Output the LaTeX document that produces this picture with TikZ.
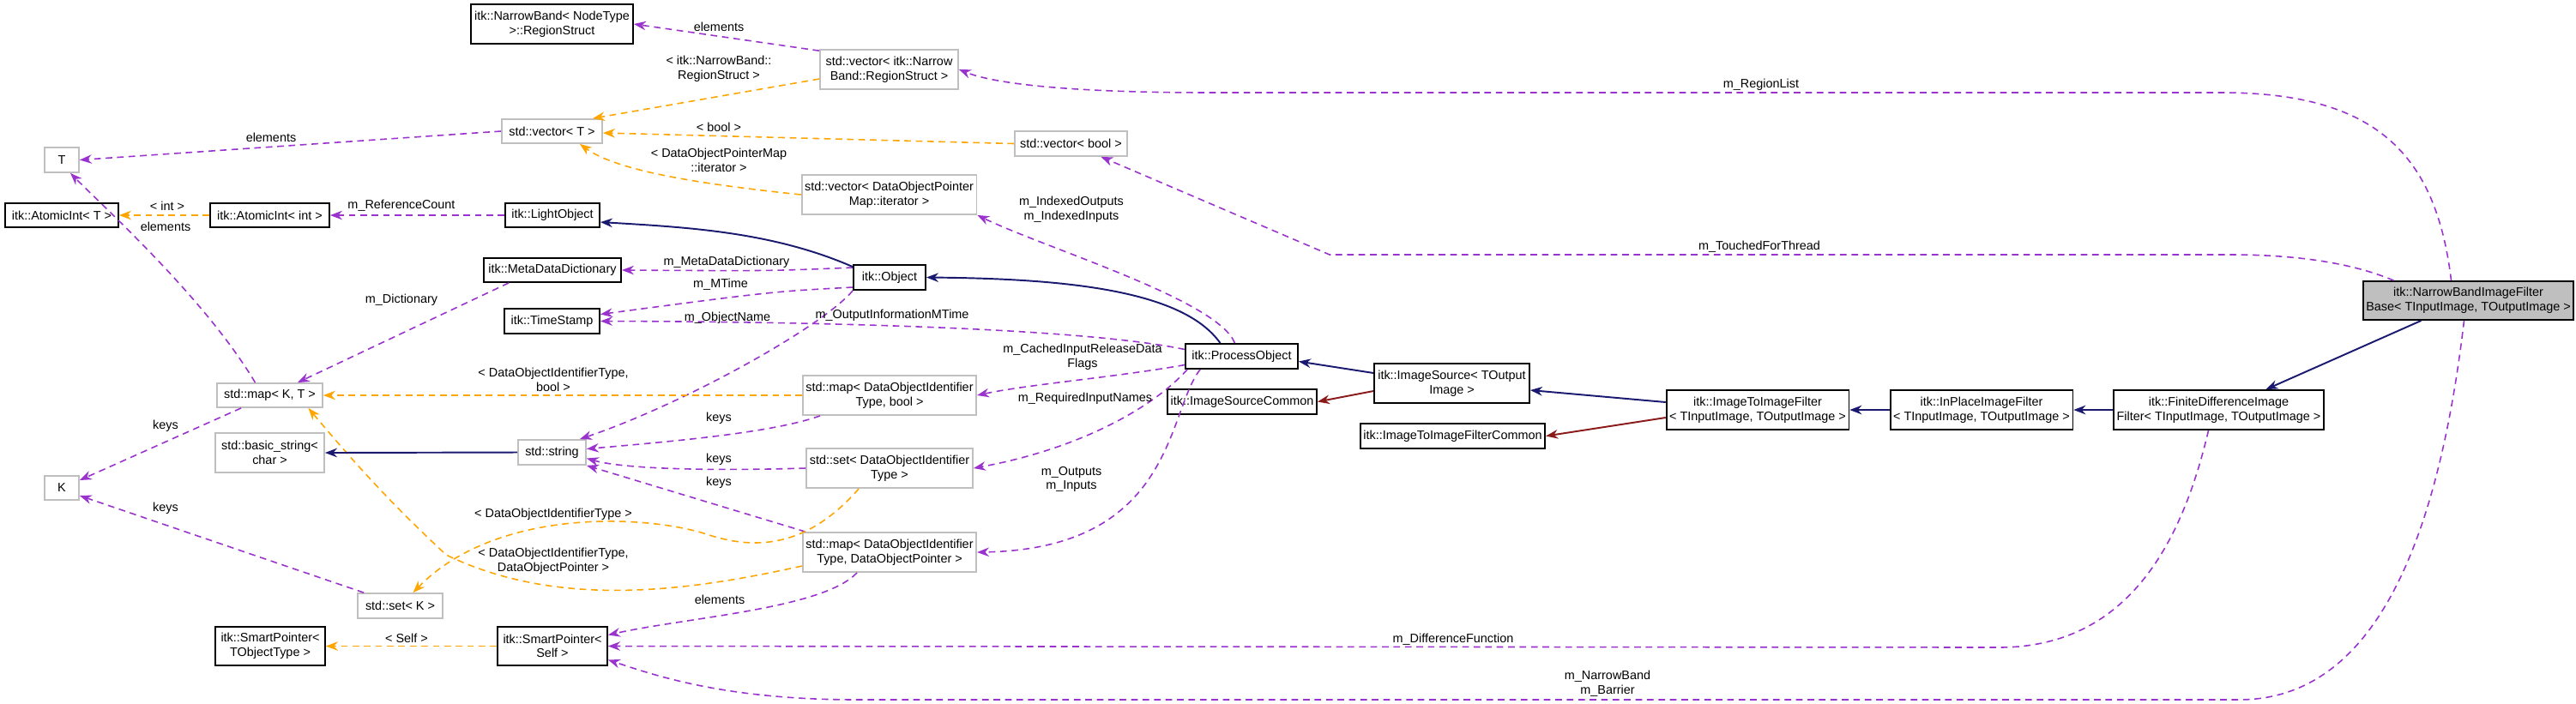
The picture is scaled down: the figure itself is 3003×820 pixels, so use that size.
\documentclass[tikz,border=0pt]{standalone}
\usepackage{fontspec}
\setmainfont{Liberation Sans}
\usetikzlibrary{arrows.meta,calc}
\definecolor{mem}{HTML}{9A32CD}
\definecolor{tpl}{HTML}{FFA500}
\definecolor{inh}{HTML}{191970}
\definecolor{prv}{HTML}{8B1A1A}
\definecolor{gbox}{HTML}{BFBFBF}
\tikzset{
  bx/.style={draw=black, line width=0.5pt, fill=white, align=center, inner sep=1pt, font=\fontsize{4.1}{4.7}\selectfont},
  gb/.style={bx, draw=gbox},
  sz/.style 2 args={minimum width=#1*0.01cm, minimum height=#2*0.01cm},
  lbl/.style={align=center, inner sep=0pt, font=\fontsize{4.1}{4.7}\selectfont},
  tip/.style={-{Stealth[length=4pt,width=3pt]}},
  memb/.style={tip, draw=mem, dashed, dash pattern=on 2.2pt off 1.6pt, line width=0.45pt},
  tmpl/.style={tip, draw=tpl, dashed, dash pattern=on 2.2pt off 1.6pt, line width=0.45pt},
  inher/.style={tip, draw=inh, line width=0.55pt},
  priv/.style={tip, draw=prv, line width=0.55pt},
}
\begin{document}
\begin{tikzpicture}[x=0.01cm,y=-0.01cm]
\useasboundingbox (0,0) rectangle (3003,820);
% nodes
\node[bx, sz={189}{46}] (rs) at (643.5,28) {itk::NarrowBand< NodeType\\>::RegionStruct};
\node[gb, sz={161}{46}] (vecrs) at (1036.5,81) {std::vector< itk::Narrow\\Band::RegionStruct >};
\node[gb, sz={117}{28}] (vect) at (643.5,153) {std::vector< T >};
\node[gb, sz={131}{29}] (vecbool) at (1248.5,167.5) {std::vector< bool >};
\node[gb, sz={203}{46}] (vecdopm) at (1036.5,227) {std::vector< DataObjectPointer\\Map::iterator >};
\node[gb, sz={40}{29}] (t) at (72,186.5) {T};
\node[bx, sz={132}{28}] (atomict) at (72,251) {itk::AtomicInt< T >};
\node[bx, sz={139}{28}] (atomicint) at (314.5,251) {itk::AtomicInt< int >};
\node[bx, sz={110}{28}] (light) at (644,251) {itk::LightObject};
\node[bx, sz={160}{28}] (mdd) at (644,315) {itk::MetaDataDictionary};
\node[bx, sz={84}{29}] (object) at (1037,323.5) {itk::Object};
\node[bx, sz={111}{29}] (timestamp) at (643.5,374.5) {itk::TimeStamp};
\node[gb, sz={123}{28}] (map) at (314.5,461) {std::map< K, T >};
\node[gb, sz={127}{46}] (basicstring) at (314.5,528) {std::basic\_string<\\char >};
\node[gb, sz={79}{29}] (string) at (643.5,527.5) {std::string};
\node[gb, sz={40}{28}] (k) at (72,569) {K};
\node[gb, sz={202}{46}] (mapbool) at (1037,461) {std::map< DataObjectIdentifier\\Type, bool >};
\node[gb, sz={194}{46}] (setdoit) at (1037,546) {std::set< DataObjectIdentifier\\Type >};
\node[gb, sz={202}{46}] (mapdop) at (1037,644) {std::map< DataObjectIdentifier\\Type, DataObjectPointer >};
\node[gb, sz={99}{29}] (setk) at (466.5,706.5) {std::set< K >};
\node[bx, sz={128}{45}] (spt) at (315,753.5) {itk::SmartPointer<\\TObjectType >};
\node[bx, sz={128}{45}] (sps) at (644,753.5) {itk::SmartPointer<\\Self >};
\node[bx, sz={131}{29}] (po) at (1447.5,415.5) {itk::ProcessObject};
\node[bx, sz={181}{46}] (imagesource) at (1692.5,447) {itk::ImageSource< TOutput\\Image >};
\node[bx, sz={174}{29}] (isc) at (1448,468.5) {itk::ImageSourceCommon};
\node[bx, sz={210}{46}] (i2i) at (2049,478) {itk::ImageToImageFilter\\< TInputImage, TOutputImage >};
\node[bx, sz={213}{29}] (i2ic) at (1693.5,508.5) {itk::ImageToImageFilterCommon};
\node[bx, sz={210}{46}] (inplace) at (2310,478) {itk::InPlaceImageFilter\\< TInputImage, TOutputImage >};
\node[bx, sz={239}{46}] (fd) at (2586.5,478) {itk::FiniteDifferenceImage\\Filter< TInputImage, TOutputImage >};
\node[bx, fill=gbox, sz={239}{45}] (nbifb) at (2877.5,350.5) {itk::NarrowBandImageFilter\\Base< TInputImage, TOutputImage >};
% member edges
\draw[memb] (vecrs.165) -- (rs.east);
\draw[memb] ($(nbifb.north)+(-20,0)$) .. controls (2840,180) and (2770,108) .. (2590,108) -- (1410,108) .. controls (1250,108) and (1160,98) .. (vecrs.east);
\draw[memb] ($(nbifb.north)+(-87,0)$) .. controls (2750,310) and (2690,297) .. (2600,297) -- (1550,297) -- ($(vecbool.south)+(35,0)$);
\draw[memb] ($(po.north)+(-8,0)$) .. controls (1420,350) and (1220,290) .. (vecdopm.south east);
\draw[memb] (vect.west) -- (t.east);
\draw[memb] (light.west) -- (atomicint.east);
\draw[memb] (object.165) .. controls (900,316) .. (mdd.east);
\draw[memb] (object.195) .. controls (900,340) .. ($(timestamp.east)+(0,-8)$);
\draw[memb] ($(po.west)+(0,-8)$) .. controls (1250,380) and (900,375) .. (timestamp.east);
\draw[memb] (object.south west) .. controls (960,380) and (800,470) .. ($(string.north east)+(-8,0)$);
\draw[memb] ($(mdd.south west)+(30,0)$) -- ($(map.north east)+(-30,0)$);
\draw[memb] ($(map.north)+(-17,0)$) .. controls (240,350) and (130,250) .. ($(t.south)+(10,0)$);
\draw[memb] ($(map.south west)+(29,0)$) -- ($(k.east)+(0,-9)$);
\draw[memb] ($(setk.north west)+(8,0)$) -- ($(k.east)+(0,9)$);
\draw[memb] ($(mapbool.south west)+(21,0)$) .. controls (900,505) and (780,515) .. ($(string.east)+(0,-4)$);
\draw[memb] (setdoit.west) .. controls (800,550) and (720,545) .. ($(string.east)+(0,7)$);
\draw[memb] ($(mapdop.north west)+(4,0)$) -- (string.south east);
\draw[memb] ($(po.west)+(0,10)$) .. controls (1300,440) and (1200,448) .. (mapbool.east);
\draw[memb] ($(po.south west)+(3,0)$) .. controls (1340,480) and (1250,525) .. (setdoit.east);
\draw[memb] ($(po.south west)+(18,0)$) .. controls (1360,480) and (1370,640) .. (mapdop.east);
\draw[memb] ($(mapdop.south west)+(64,0)$) .. controls (960,710) and (800,720) .. ($(sps.east)+(0,-13)$);
\draw[memb] ($(fd.south)+(-12,0)$) .. controls (2540,650) and (2470,755) .. (2330,755) -- (sps.east);
\draw[memb] ($(nbifb.south)+(-5,0)$) .. controls (2840,650) and (2760,816) .. (2610,816) -- (1000,816) .. controls (850,816) and (770,790) .. ($(sps.east)+(0,16)$);
% template edges
\draw[tmpl] (atomicint.west) -- (atomict.east);
\draw[tmpl] ($(vecrs.west)+(0,11)$) -- ($(vect.north east)+(-12,0)$);
\draw[tmpl] (vecbool.west) -- ($(vect.east)+(0,2)$);
\draw[tmpl] (vecdopm.west) .. controls (820,215) and (720,200) .. ($(vect.south east)+(-27,0)$);
\draw[tmpl] (mapbool.west) -- (map.east);
\draw[tmpl] ($(setdoit.south west)+(62,0)$) .. controls (940,640) and (880,640) .. (830,625) .. controls (760,600) and (580,590) .. ($(setk.north)+(15,0)$);
\draw[tmpl] ($(mapdop.west)+(0,16)$) .. controls (800,690) and (650,710) .. (520,647) .. controls (470,600) and (430,560) .. ($(map.south)+(45,0)$);
\draw[tmpl] (sps.west) -- (spt.east);
% inheritance
\draw[inher] ($(object.north west)+(0,3)$) .. controls (900,270) and (800,265) .. ($(light.east)+(0,8)$);
\draw[inher] ($(po.north)+(-25,0)$) .. controls (1380,340) and (1250,325) .. (object.east);
\draw[inher] (string.west) -- (basicstring.east);
\draw[inher] ($(imagesource.west)+(0,-12)$) -- ($(po.east)+(0,6)$);
\draw[priv] ($(imagesource.west)+(0,9)$) -- (isc.east);
\draw[inher] ($(i2i.west)+(0,-9)$) -- ($(imagesource.east)+(0,8)$);
\draw[priv] ($(i2i.west)+(0,9)$) -- (i2ic.east);
\draw[inher] (inplace.west) -- (i2i.east);
\draw[inher] (fd.west) -- (inplace.east);
\draw[inher] ($(nbifb.south)+(-55,0)$) -- ($(fd.north)+(55,0)$);
% labels
\node[lbl] (l1) at (838,31) {elements};
\node[lbl] (l2) at (838,80) {< itk::NarrowBand::\\RegionStruct >};
\node[lbl] (l3) at (2053,99) {m\_RegionList};
\node[lbl] (l4) at (838,148) {< bool >};
\node[lbl] (l5) at (316,160) {elements};
\node[lbl] (l6) at (838,187) {< DataObjectPointerMap\\::iterator >};
\node[lbl] (l7) at (1249,244) {m\_IndexedOutputs\\m\_IndexedInputs};
\node[lbl] (l8) at (2051,288) {m\_TouchedForThread};
\node[lbl] (l9) at (195,240) {< int >};
\node[lbl] (l10) at (193,264) {elements};
\node[lbl] (l11) at (468,240) {m\_ReferenceCount};
\node[lbl] (l12) at (847,306) {m\_MetaDataDictionary};
\node[lbl] (l13) at (840,332) {m\_MTime};
\node[lbl] (l14) at (468,350) {m\_Dictionary};
\node[lbl] (l15) at (848,371) {m\_ObjectName};
\node[lbl] (l16) at (1040,368) {m\_OutputInformationMTime};
\node[lbl] (l17) at (1262,416) {m\_CachedInputReleaseData\\Flags};
\node[lbl] (l18) at (645,443) {< DataObjectIdentifierType,\\bool >};
\node[lbl] (l19) at (1265,465) {m\_RequiredInputNames};
\node[lbl] (l20) at (193,497) {keys};
\node[lbl] (l21) at (838,488) {keys};
\node[lbl] (l22) at (838,536) {keys};
\node[lbl] (l23) at (838,563) {keys};
\node[lbl] (l24) at (1249,559) {m\_Outputs\\m\_Inputs};
\node[lbl] (l25) at (193,593) {keys};
\node[lbl] (l26) at (645,600) {< DataObjectIdentifierType >};
\node[lbl] (l27) at (645,654) {< DataObjectIdentifierType,\\DataObjectPointer >};
\node[lbl] (l28) at (839,699) {elements};
\node[lbl] (l29) at (474,744) {< Self >};
\node[lbl] (l30) at (1694,746) {m\_DifferenceFunction};
\node[lbl] (l31) at (1874,797) {m\_NarrowBand\\m\_Barrier};
\end{tikzpicture}
\end{document}
